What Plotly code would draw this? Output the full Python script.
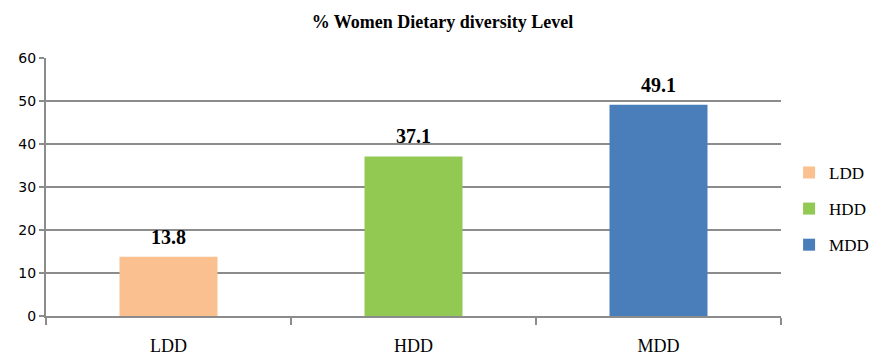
import plotly.graph_objects as go

categories = ["LDD", "HDD", "MDD"]
values = [13.8, 37.1, 49.1]
colors = ["#FAC090", "#92C952", "#4A7EBB"]
y_ticks = [0, 10, 20, 30, 40, 50, 60]

fig = go.Figure()
for c, v, col in zip(categories, values, colors):
    fig.add_trace(go.Bar(
        x=[c], y=[v], name=c, legendgroup=c,
        marker=dict(color=col, line=dict(width=0)), width=0.4,
    ))
    fig.add_annotation(
        x=c, y=v, text=f"<b>{v:.1f}</b>", showarrow=False,
        yanchor="bottom", yshift=7,
        font=dict(family="Liberation Serif", size=20, color="black"),
    )

# page body has an 8px margin, so the figure is sized to the remaining area
fig.update_layout(
    width=869, height=352,
    margin=dict(l=38, r=96, t=50, b=44, autoexpand=False),
    plot_bgcolor="white", paper_bgcolor="white",
    barmode="overlay",
    title=dict(text="<b>% Women Dietary diversity Level</b>", x=0.5, xanchor="center",
               y=0.96, yanchor="middle",
               font=dict(family="Liberation Serif", size=18, color="black")),
    legend=dict(x=1.011, y=0.415, xanchor="left", yanchor="middle",
                font=dict(family="Liberation Serif", size=17, color="black"),
                itemwidth=30, traceorder="grouped", tracegroupgap=11),
    showlegend=True,
)
fig.update_xaxes(
    categoryorder="array", categoryarray=categories,
    showline=True, linecolor="#8c8c8c", linewidth=2,
    ticks="outside", tickson="boundaries", ticklen=7, tickcolor="#8c8c8c", tickwidth=2,
    tickfont=dict(family="Liberation Serif", size=18, color="black"),
    ticklabelstandoff=12,
    showgrid=False, automargin=False,
)
fig.update_yaxes(
    range=[0, 60], tickvals=y_ticks,
    showline=True, linecolor="#8c8c8c", linewidth=2,
    ticks="outside", ticklen=5, tickcolor="#8c8c8c", tickwidth=2,
    showgrid=True, gridcolor="#8c8c8c", gridwidth=2,
    tickfont=dict(family="DejaVu Sans", size=14, color="black"),
    zeroline=False, automargin=False,
)
fig.write_html("out.html")
